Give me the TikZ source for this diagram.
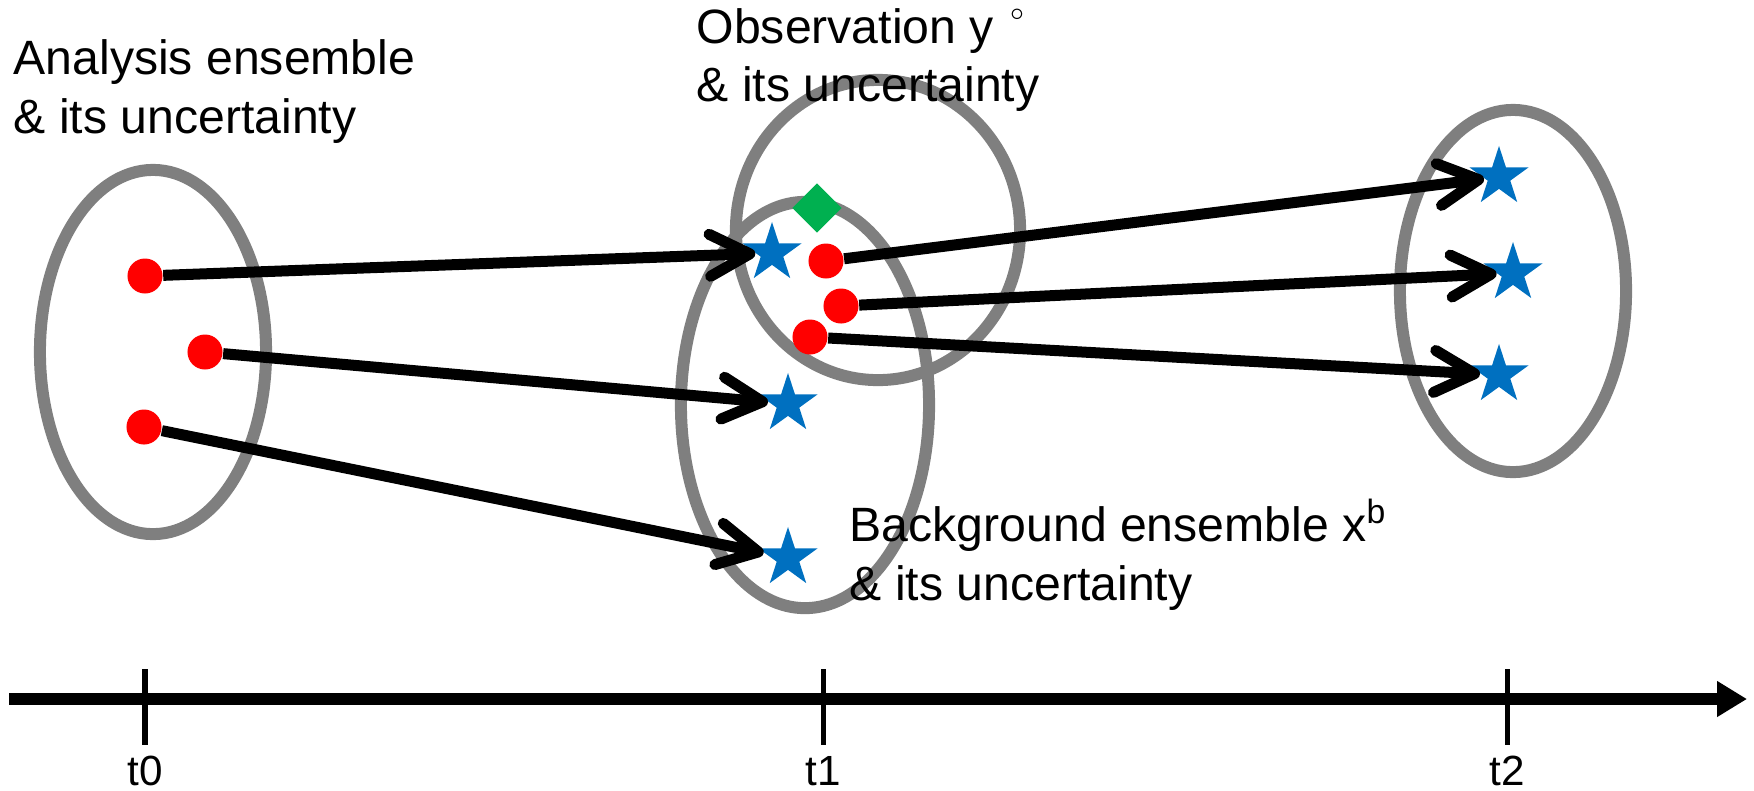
\documentclass[tikz,border=0pt]{standalone}
\usepackage{fontspec}
\setmainfont{Liberation Sans}
\usetikzlibrary{shapes.geometric,arrows.meta}
\definecolor{ellgray}{RGB}{127,127,127}
\definecolor{dotred}{RGB}{255,0,0}
\definecolor{starblue}{RGB}{0,112,192}
\definecolor{obsgreen}{RGB}{0,176,80}

\begin{document}
\begin{tikzpicture}[x=0.01cm,y=-0.01cm,
    ell/.style={draw=ellgray,line width=0.12cm},
    dot/.style={circle,fill=dotred,inner sep=0pt,minimum size=0.35cm},
    fstar/.style={star,star points=5,star point ratio=2.618,fill=starblue,inner sep=0pt,minimum size=0.62cm},
    arr/.style={line width=0.11cm,-{Straight Barb[length=0.4cm,width=0.42cm,round]}},
    lbl/.style={font=\fontsize{13.7}{16.5}\selectfont,align=left,inner sep=0pt,anchor=base west},
    tlbl/.style={font=\fontsize{12}{14}\selectfont,inner sep=0pt,anchor=base}]
\useasboundingbox (0,0) rectangle (1754,790);
\draw[ell] (153,352) ellipse [x radius=1.13cm,y radius=1.82cm];
\draw[ell] (805,405) ellipse [x radius=1.24cm,y radius=2.03cm];
\draw[ell] (878,230) ellipse [x radius=1.42cm,y radius=1.50cm];
\draw[ell] (1513,291) ellipse [x radius=1.13cm,y radius=1.81cm];
\node[lbl] (an) at (13,133) {Analysis ensemble\\\& its uncertainty};
\node[lbl] (ob) at (696,101.5) {Observation y\hspace{4.5pt}\raisebox{6.6pt}{\fontsize{7}{7}\selectfont$\circ$}\\\& its uncertainty};
\node[lbl] (bg) at (849,600) {Background ensemble x\textsuperscript{b}\\\& its uncertainty};
\node[diamond,fill=obsgreen,inner sep=0pt,minimum size=0.5cm] (yo) at (817,208) {};
\node[dot] (a1) at (145,276) {};
\node[dot] (a2) at (205,352) {};
\node[dot] (a3) at (144,427) {};
\node[fstar] (b1) at (772,253) {};
\node[fstar] (b2) at (788,404) {};
\node[fstar] (b3) at (788,558) {};
\node[dot] (c1) at (826,261) {};
\node[dot] (c2) at (841,306) {};
\node[dot] (c3) at (810,337) {};
\node[fstar] (f1) at (1499,177) {};
\node[fstar] (f2) at (1513,273) {};
\node[fstar] (f3) at (1499,375) {};
\draw[arr] (a1) -- (b1);
\draw[arr] (a2) -- (b2);
\draw[arr] (a3) -- (b3);
\draw[arr] (c1) -- (f1);
\draw[arr] (c2) -- (f2);
\draw[arr] (c3) -- (f3);
\coordinate (ax0) at (9,699);
\coordinate (ax1) at (1747,699);
\draw[line width=0.12cm,-{Triangle[length=0.3cm,width=0.34cm]}] (ax0) -- (ax1);
\foreach \x/\t in {145/t0,823/t1,1507/t2}{
    \draw[line width=0.05cm] (\x,669) -- (\x,745);
    \node[tlbl] (\t) at (\x,785) {\t};
}
\end{tikzpicture}
\end{document}
